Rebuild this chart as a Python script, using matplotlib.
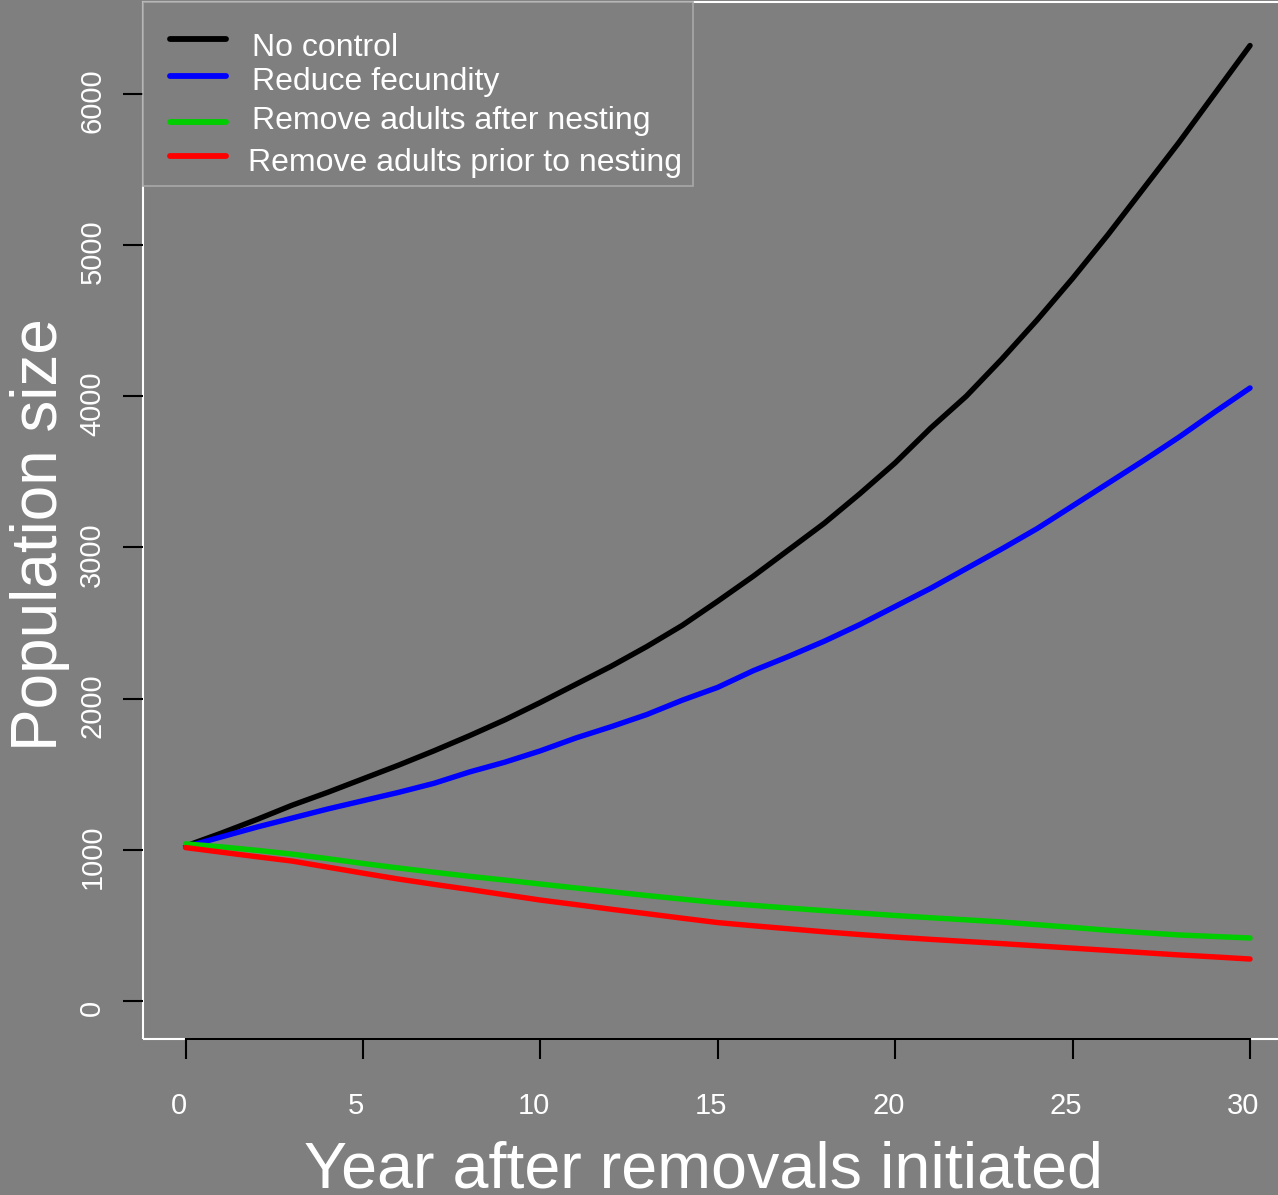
import matplotlib
matplotlib.use("Agg")
import matplotlib.pyplot as plt
from matplotlib.lines import Line2D
from matplotlib.patches import Rectangle
from matplotlib.transforms import ScaledTranslation

plt.rcParams['font.family'] = ['Liberation Sans', 'DejaVu Sans']

years = list(range(0, 31))
no_control = [1025, 1110, 1200, 1295, 1380, 1470, 1560, 1655, 1755, 1860, 1975,
              2095, 2215, 2345, 2485, 2645, 2810, 2985, 3160, 3355, 3560,
              3790, 4000, 4245, 4505, 4780, 5070, 5375, 5680, 6000, 6320]
reduce_fecundity = [1020, 1085, 1150, 1210, 1270, 1325, 1380, 1440, 1515, 1580, 1655,
                    1740, 1815, 1895, 1990, 2075, 2185, 2280, 2380, 2490, 2610,
                    2730, 2860, 2990, 3125, 3275, 3425, 3575, 3730, 3895, 4055]
remove_after = [1040, 1020, 997, 972, 942, 910, 880, 852, 825, 800, 774,
                748, 723, 698, 674, 651, 633, 615, 598, 582, 566,
                551, 537, 523, 505, 487, 468, 452, 437, 427, 417]
remove_prior = [1015, 985, 955, 926, 886, 846, 807, 772, 738, 703, 668,
                638, 607, 578, 548, 519, 498, 478, 458, 440, 423,
                408, 394, 380, 365, 350, 335, 320, 305, 292, 278]

series_labels = ["No control", "Reduce fecundity",
                 "Remove adults after nesting", "Remove adults prior to nesting"]
series_values = [no_control, reduce_fecundity, remove_after, remove_prior]
series_colors = ["#000000", "#0000ff", "#00cd00", "#ff0000"]

x_ticks = [0, 5, 10, 15, 20, 25, 30]
y_ticks = [0, 1000, 2000, 3000, 4000, 5000, 6000]

W, H = 1278, 1195
BG = "#7f7f7f"
fig = plt.figure(figsize=(W / 100, H / 100), dpi=100, facecolor=BG)

# axes box in pixels: left 143, top 2, bottom 1039, right beyond figure
ax_left, ax_top, ax_bottom = 143, 2, 1039
ax_w = 1149.6
ax = fig.add_axes([ax_left / W, 1 - ax_bottom / H, ax_w / W, (ax_bottom - ax_top) / H])
ax.set_facecolor(BG)
ax.set_xlim(-1.2, 31.2)
ax.set_ylim(-251, 6608)

for vals, col in zip(series_values, series_colors):
    ax.plot(years, vals, color=col, lw=3.9, solid_capstyle='round', solid_joinstyle='round', zorder=3)

# box (white) and black x axis line
for s in ['left', 'top', 'right']:
    ax.spines[s].set_visible(False)
box = Rectangle((0, 0), 1, 1, transform=ax.transAxes, fill=False,
                edgecolor='white', lw=1.5, clip_on=False, zorder=1)
ax.add_patch(box)
ax.spines['bottom'].set_color('black')
ax.spines['bottom'].set_linewidth(1.5)
ax.spines['bottom'].set_bounds(0, 30)
ax.spines['bottom'].set_zorder(2)

ax.set_xticks(x_ticks)
ax.set_yticks(y_ticks)
ax.set_xticklabels([str(v) for v in x_ticks])
ax.set_yticklabels([str(v) for v in y_ticks], rotation=90, va='center')
ax.tick_params(axis='both', colors='black', length=14.4, width=1.5,
               labelcolor='white', labelsize=21)
ax.tick_params(axis='x', pad=24)
ax.tick_params(axis='y', pad=12)
for lab in ax.get_xticklabels():
    lab.set_transform(lab.get_transform() + ScaledTranslation(-7 / 100, 0, fig.dpi_scale_trans))
for lab in ax.get_yticklabels():
    lab.set_transform(lab.get_transform() + ScaledTranslation(0, -7 / 100, fig.dpi_scale_trans))

ax.set_xlabel("Year after removals initiated", fontsize=46.5, color='white')
ax.set_ylabel("Population size", fontsize=46, color='white')
ax.xaxis.label.set_va('center')
ax.yaxis.label.set_va('center')
ax.xaxis.set_label_coords((703 - ax_left) / ax_w, (ax_bottom - 1170) / (ax_bottom - ax_top))
ax.yaxis.set_label_coords((40 - ax_left) / ax_w, (ax_bottom - 535) / (ax_bottom - ax_top))
ax.xaxis.label.set_ha('center')

# legend drawn in figure pixel coordinates
def fx(px):
    return px / W

def fy(py):
    return 1 - py / H

frame = Rectangle((fx(143), fy(186)), (693 - 143) / W, (186 - 2) / H,
                  transform=fig.transFigure, facecolor=BG, edgecolor='#a8a8a8',
                  lw=1.2, zorder=5)
fig.add_artist(frame)
line_y = [39, 76, 122, 156]
text_base = [56, 90, 129, 171]
text_x = [252, 252, 252, 248]
for lab, col, ly, tb, tx in zip(series_labels, series_colors, line_y, text_base, text_x):
    fig.add_artist(Line2D([fx(170), fx(226)], [fy(ly), fy(ly)], transform=fig.transFigure,
                          color=col, lw=4.2, solid_capstyle='round', zorder=6))
    fig.text(fx(tx), fy(tb), lab, color='white', fontsize=23, ha='left', va='baseline', zorder=6)

fig.savefig("out.png", dpi=100, facecolor=BG)
